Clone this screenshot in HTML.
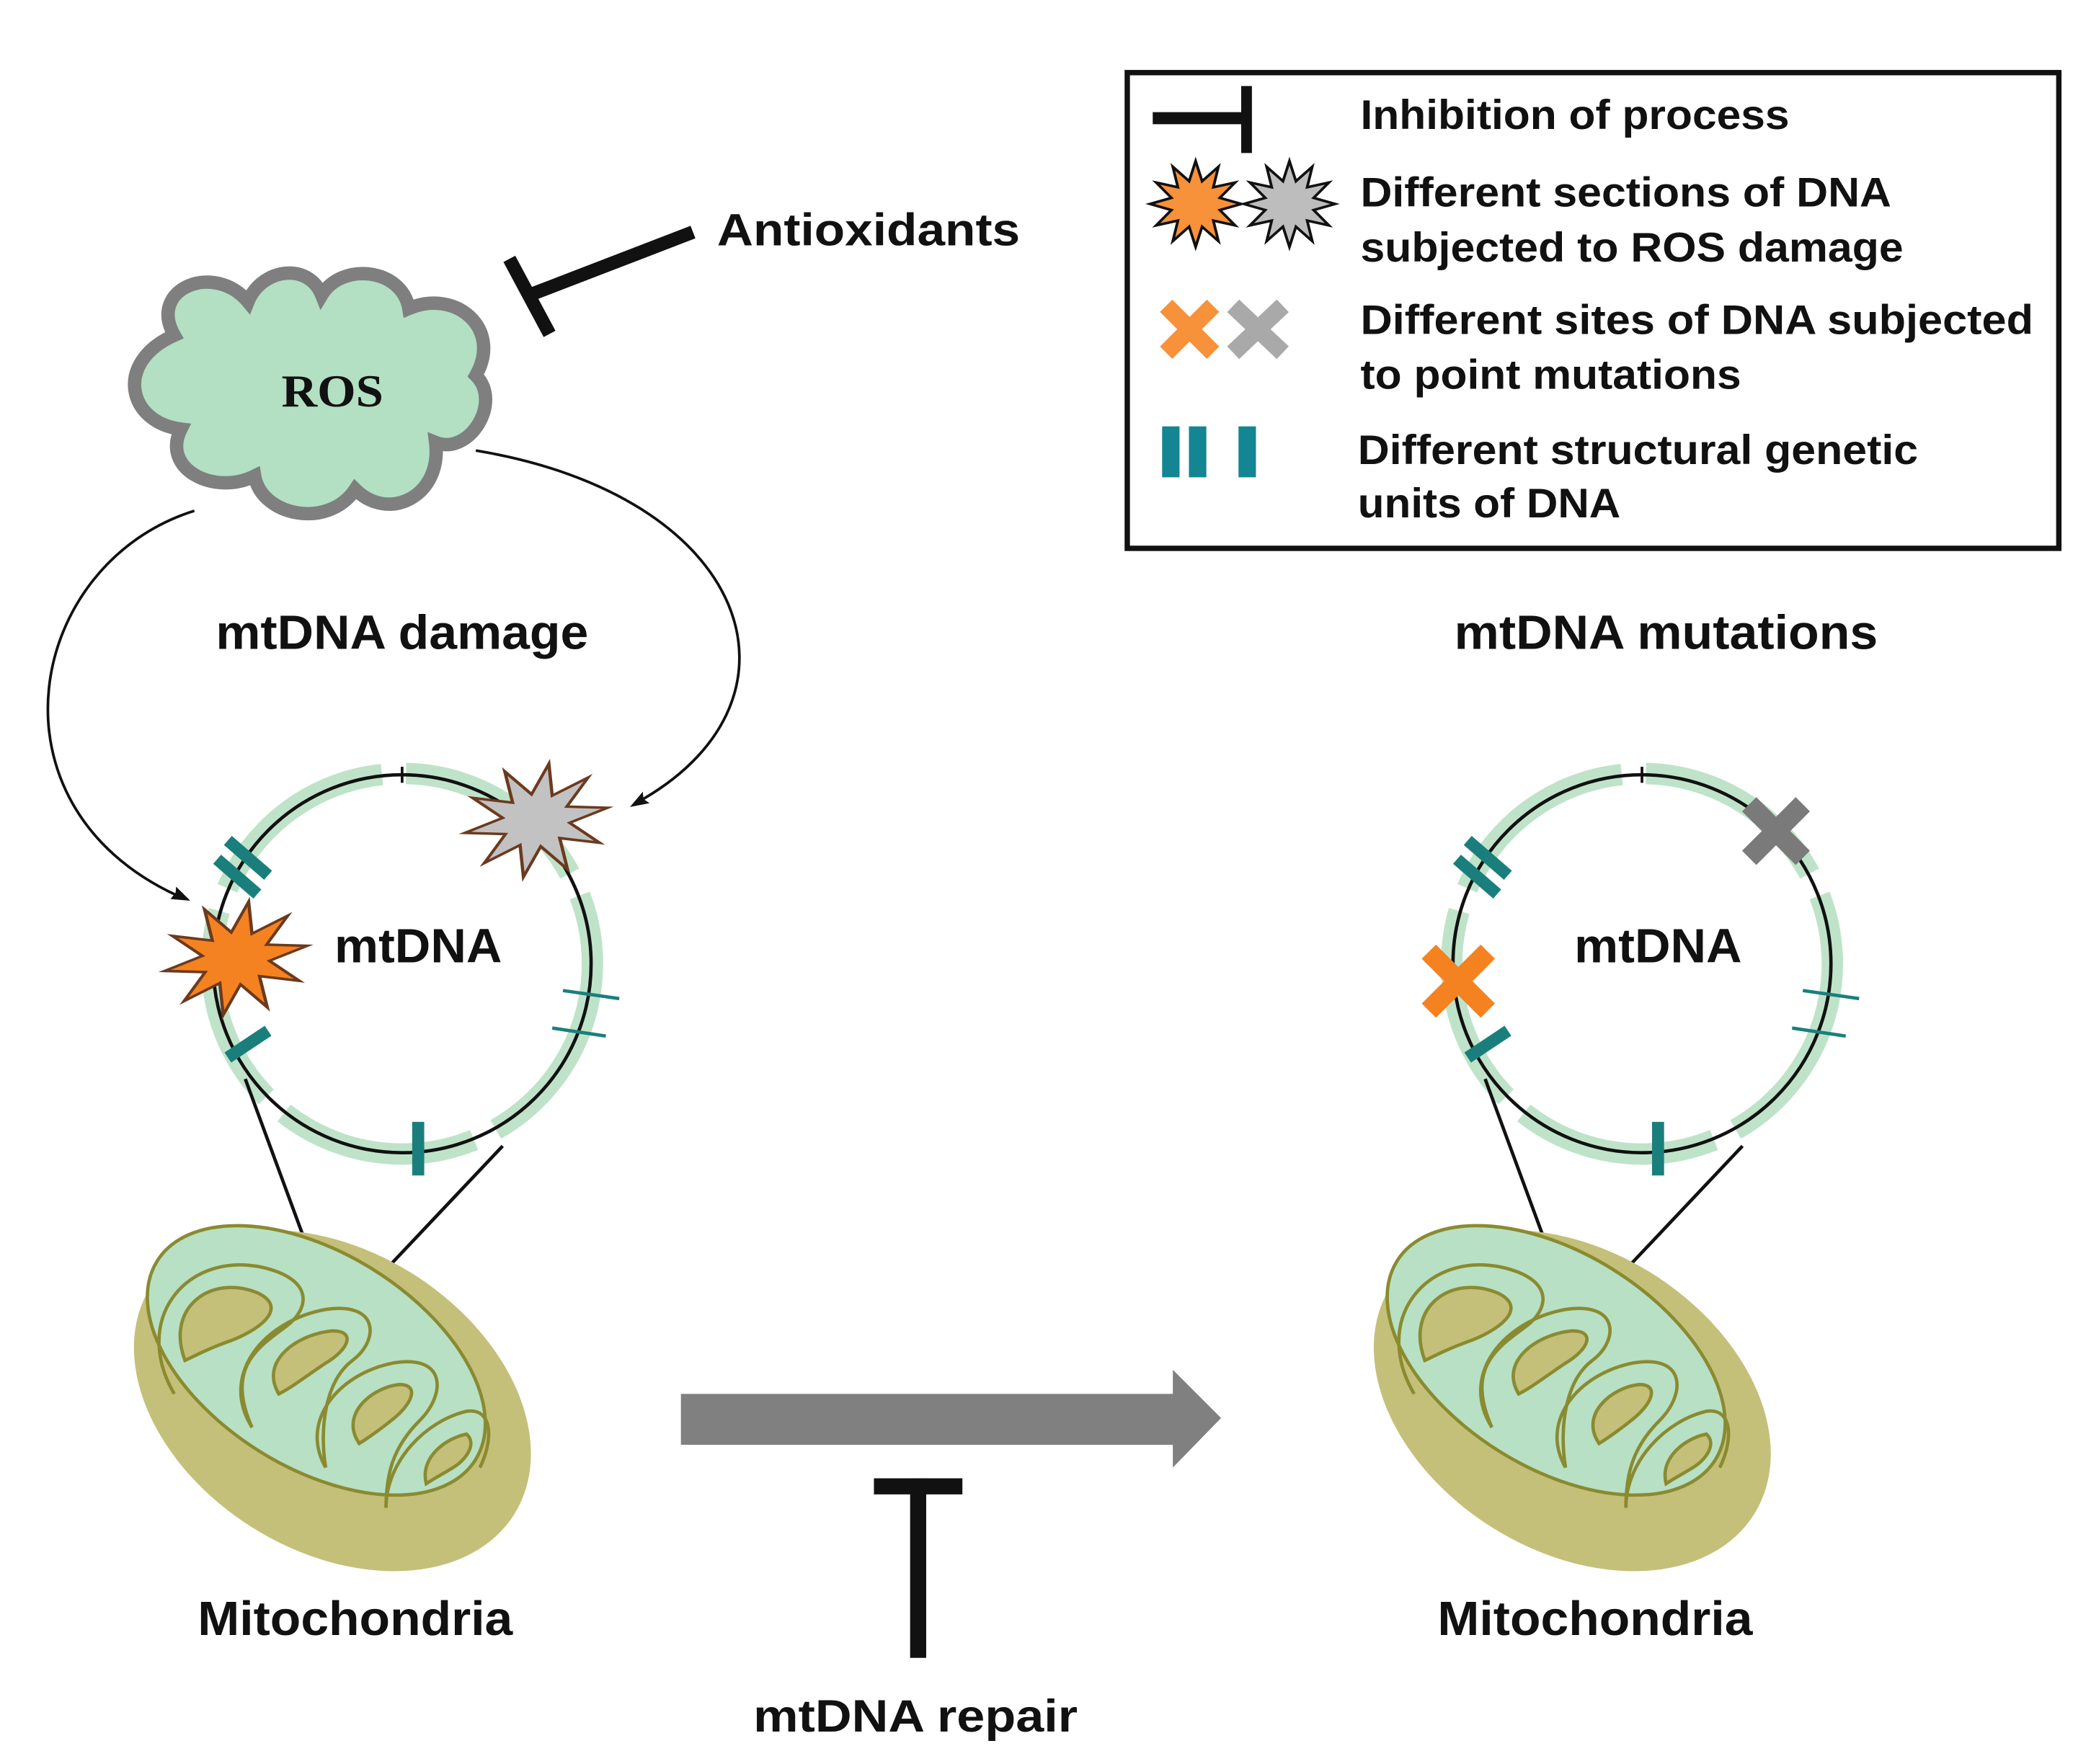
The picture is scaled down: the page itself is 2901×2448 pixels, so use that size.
<!DOCTYPE html>
<html><head><meta charset="utf-8"><style>
html,body{margin:0;padding:0;background:#fff}
svg{display:block}
text{font-family:"Liberation Sans",Arial,sans-serif;font-weight:bold;fill:#111}
</style></head><body>
<svg width="2901" height="2448" viewBox="0 0 1560 1316" xmlns="http://www.w3.org/2000/svg">
<defs>
<g id="mito">
 <ellipse cx="0" cy="0" rx="160" ry="112" transform="rotate(32)" fill="#c4c07a"/>
 <ellipse cx="-12" cy="-30" rx="140" ry="80" transform="rotate(32 -12 -30)" fill="#b8e0c4" stroke="#8a8a30" stroke-width="2.5"/>
 <g fill="#c4c07a" stroke="#8a8a30" stroke-width="2.5">
  <path d="M-110,-30 C-125,-70 -90,-95 -55,-80 C-35,-70 -50,-55 -75,-45 C-95,-38 -103,-33 -110,-30z"/>
  <path d="M-40,-5 C-55,-30 -25,-50 0,-52 C18,-52 12,-38 -5,-28 C-20,-18 -30,-10 -40,-5z"/>
  <path d="M20,32 C5,10 30,-10 50,-12 C65,-12 60,2 45,14 C35,22 28,27 20,32z"/>
  <path d="M70,62 C65,42 85,28 100,25 C108,32 100,44 90,50 C82,55 76,58 70,62z"/>
 </g>
 <g fill="none" stroke="#8a8a30" stroke-width="2.5">
  <path d="M-118,-5 C-150,-60 -110,-110 -55,-100 C-15,-92 -15,-70 -35,-55 C-55,-40 -80,-25 -60,20"/>
  <path d="M-60,20 C-85,-20 -50,-60 -5,-68 C35,-74 35,-45 15,-30 C-5,-15 -10,20 -5,50"/>
  <path d="M-5,50 C-25,15 5,-20 45,-28 C85,-35 85,-5 65,15 C45,35 40,55 40,80"/>
  <path d="M40,80 C40,45 70,15 100,8 C120,5 120,30 110,50"/>
 </g>
</g>
<g id="ring">
 <circle cx="0" cy="0" r="142" fill="none" stroke="#bfe3c9" stroke-width="16" stroke-dasharray="150 18"/>
 <circle cx="0" cy="0" r="141" fill="none" stroke="#111" stroke-width="2.5"/>
 <line x1="0" y1="-147" x2="0" y2="-135" stroke="#111" stroke-width="2"/>
 <g stroke="#1a7f7c" stroke-width="9">
  <line x1="-130" y1="-92" x2="-100" y2="-66"/><line x1="-138" y1="-78" x2="-108" y2="-52"/>
  <line x1="-130" y1="70" x2="-100" y2="50"/>
  <line x1="12" y1="118" x2="12" y2="158"/>
 </g>
 <g stroke="#1a7f7c" stroke-width="2.5">
  <line x1="120" y1="20" x2="162" y2="26"/><line x1="112" y1="48" x2="152" y2="54"/>
 </g>
</g>
</defs>

<!-- Legend -->
<rect x="841" y="54" width="695" height="355" fill="#fff" stroke="#111" stroke-width="4"/>
<line x1="860" y1="88" x2="930" y2="88" stroke="#111" stroke-width="9"/>
<line x1="930" y1="64" x2="930" y2="114" stroke="#111" stroke-width="8"/>
<polygon transform="translate(892,152) scale(34,32)" fill="#f7913a" stroke="#111" stroke-width="0.06" points="1,0 .531,.142 .866,.5 .389,.389 .5,.866 .142,.531 0,1 -.142,.531 -.5,.866 -.389,.389 -.866,.5 -.531,.142 -1,0 -.531,-.142 -.866,-.5 -.389,-.389 -.5,-.866 -.142,-.531 0,-1 .142,-.531 .5,-.866 .389,-.389 .866,-.5 .531,-.142"/>
<polygon transform="translate(962,152) scale(34,32)" fill="#bdbdbd" stroke="#111" stroke-width="0.06" points="1,0 .531,.142 .866,.5 .389,.389 .5,.866 .142,.531 0,1 -.142,.531 -.5,.866 -.389,.389 -.866,.5 -.531,.142 -1,0 -.531,-.142 -.866,-.5 -.389,-.389 -.5,-.866 -.142,-.531 0,-1 .142,-.531 .5,-.866 .389,-.389 .866,-.5 .531,-.142"/>
<g stroke-width="13" stroke-linecap="butt">
 <line x1="870" y1="228" x2="905" y2="263" stroke="#f7913a"/><line x1="905" y1="228" x2="870" y2="263" stroke="#f7913a"/>
 <line x1="920" y1="228" x2="957" y2="263" stroke="#a9a9a9"/><line x1="957" y1="228" x2="920" y2="263" stroke="#a9a9a9"/>
</g>
<rect x="867" y="318" width="13" height="38" fill="#138593"/>
<rect x="887" y="318" width="13" height="38" fill="#138593"/>
<rect x="924" y="318" width="13" height="38" fill="#138593"/>
<g font-size="31">
<text x="1015" y="96" textLength="320" lengthAdjust="spacingAndGlyphs">Inhibition of process</text>
<text x="1015" y="154" textLength="396" lengthAdjust="spacingAndGlyphs">Different sections of DNA</text>
<text x="1015" y="195" textLength="405" lengthAdjust="spacingAndGlyphs">subjected to ROS damage</text>
<text x="1015" y="249" textLength="502" lengthAdjust="spacingAndGlyphs">Different sites of DNA subjected</text>
<text x="1015" y="290" textLength="284" lengthAdjust="spacingAndGlyphs">to point mutations</text>
<text x="1013" y="346" textLength="418" lengthAdjust="spacingAndGlyphs">Different structural genetic</text>
<text x="1013" y="386" textLength="196" lengthAdjust="spacingAndGlyphs">units of DNA</text>
</g>

<!-- Antioxidants -->
<text x="535" y="183" font-size="34" textLength="226" lengthAdjust="spacingAndGlyphs">Antioxidants</text>
<line x1="517" y1="173" x2="395" y2="220" stroke="#111" stroke-width="10"/>
<line x1="380" y1="193" x2="410" y2="249" stroke="#111" stroke-width="10"/>

<!-- ROS cloud -->
<path d="M130,250 C110,215 160,195 185,225 C195,200 230,195 240,220 C255,195 300,200 305,230 C340,215 375,245 355,280 C375,300 350,340 325,330 C330,370 290,390 265,365 C245,395 195,385 190,355 C160,370 120,350 135,320 C95,315 85,270 130,250z" fill="#b3dfc3" stroke="#7f7f7f" stroke-width="10"/>
<text x="248" y="303" text-anchor="middle" font-size="34" textLength="76" lengthAdjust="spacingAndGlyphs" style="font-family:'Liberation Serif',serif">ROS</text>

<!-- arrows from ROS -->
<path d="M145,381 C20,420 -15,600 132,668" fill="none" stroke="#111" stroke-width="2"/>
<polygon points="142,672 127.2,670.7 131,666 131.4,661.5" fill="#111"/>
<path d="M355,336 C560,370 610,520 480,596" fill="none" stroke="#111" stroke-width="2"/>
<polygon points="470,602 479.6,590.6 480,596 484.6,599.2" fill="#111"/>

<text x="300" y="484" text-anchor="middle" font-size="36" textLength="278" lengthAdjust="spacingAndGlyphs">mtDNA damage</text>
<text x="1243" y="484" text-anchor="middle" font-size="36" textLength="316" lengthAdjust="spacingAndGlyphs">mtDNA mutations</text>

<!-- left ring -->
<use href="#ring" transform="translate(300,719)"/>
<polygon transform="translate(400,612) rotate(-10) scale(54,42)" fill="#c2c2c2" stroke="#6b3a1e" stroke-width="0.045" points="1,0 .45,.146 .809,.588 .278,.383 .309,.951 0,.47 -.309,.951 -.278,.383 -.809,.588 -.45,.146 -1,0 -.45,-.146 -.809,-.588 -.278,-.383 -.309,-.951 0,-.47 .309,-.951 .278,-.383 .809,-.588 .45,-.146"/>
<polygon transform="translate(176,715) rotate(-10) scale(54,42)" fill="#f58220" stroke="#6b3a1e" stroke-width="0.045" points="1,0 .45,.146 .809,.588 .278,.383 .309,.951 0,.47 -.309,.951 -.278,.383 -.809,.588 -.45,.146 -1,0 -.45,-.146 -.809,-.588 -.278,-.383 -.309,-.951 0,-.47 .309,-.951 .278,-.383 .809,-.588 .45,-.146"/>
<text x="312" y="718" text-anchor="middle" font-size="36" textLength="125" lengthAdjust="spacingAndGlyphs">mtDNA</text>
<line x1="183" y1="805" x2="232" y2="938" stroke="#111" stroke-width="2.5"/>
<line x1="375" y1="855" x2="290" y2="945" stroke="#111" stroke-width="2.5"/>
<use href="#mito" transform="translate(248,1045)"/>
<text x="265" y="1220" text-anchor="middle" font-size="36" textLength="235" lengthAdjust="spacingAndGlyphs">Mitochondria</text>

<!-- right ring -->
<use href="#ring" transform="translate(1225,719)"/>
<g stroke-width="15">
 <line x1="1305" y1="600" x2="1345" y2="640" stroke="#7a7a7a"/><line x1="1345" y1="600" x2="1305" y2="640" stroke="#7a7a7a"/>
 <line x1="1066" y1="710" x2="1110" y2="754" stroke="#f58220"/><line x1="1110" y1="710" x2="1066" y2="754" stroke="#f58220"/>
</g>
<text x="1237" y="718" text-anchor="middle" font-size="36" textLength="125" lengthAdjust="spacingAndGlyphs">mtDNA</text>
<line x1="1108" y1="805" x2="1157" y2="938" stroke="#111" stroke-width="2.5"/>
<line x1="1300" y1="855" x2="1215" y2="945" stroke="#111" stroke-width="2.5"/>
<use href="#mito" transform="translate(1173,1045)"/>
<text x="1190" y="1220" text-anchor="middle" font-size="36" textLength="235" lengthAdjust="spacingAndGlyphs">Mitochondria</text>

<!-- big arrow -->
<path d="M508,1040 L875,1040 L875,1022 L911,1058 L875,1095 L875,1078 L508,1078z" fill="#808080"/>
<rect x="652" y="1103" width="66" height="12" fill="#111"/>
<rect x="679" y="1103" width="12" height="134" fill="#111"/>
<text x="683" y="1292" text-anchor="middle" font-size="34" textLength="242" lengthAdjust="spacingAndGlyphs">mtDNA repair</text>
</svg>
</body></html>
